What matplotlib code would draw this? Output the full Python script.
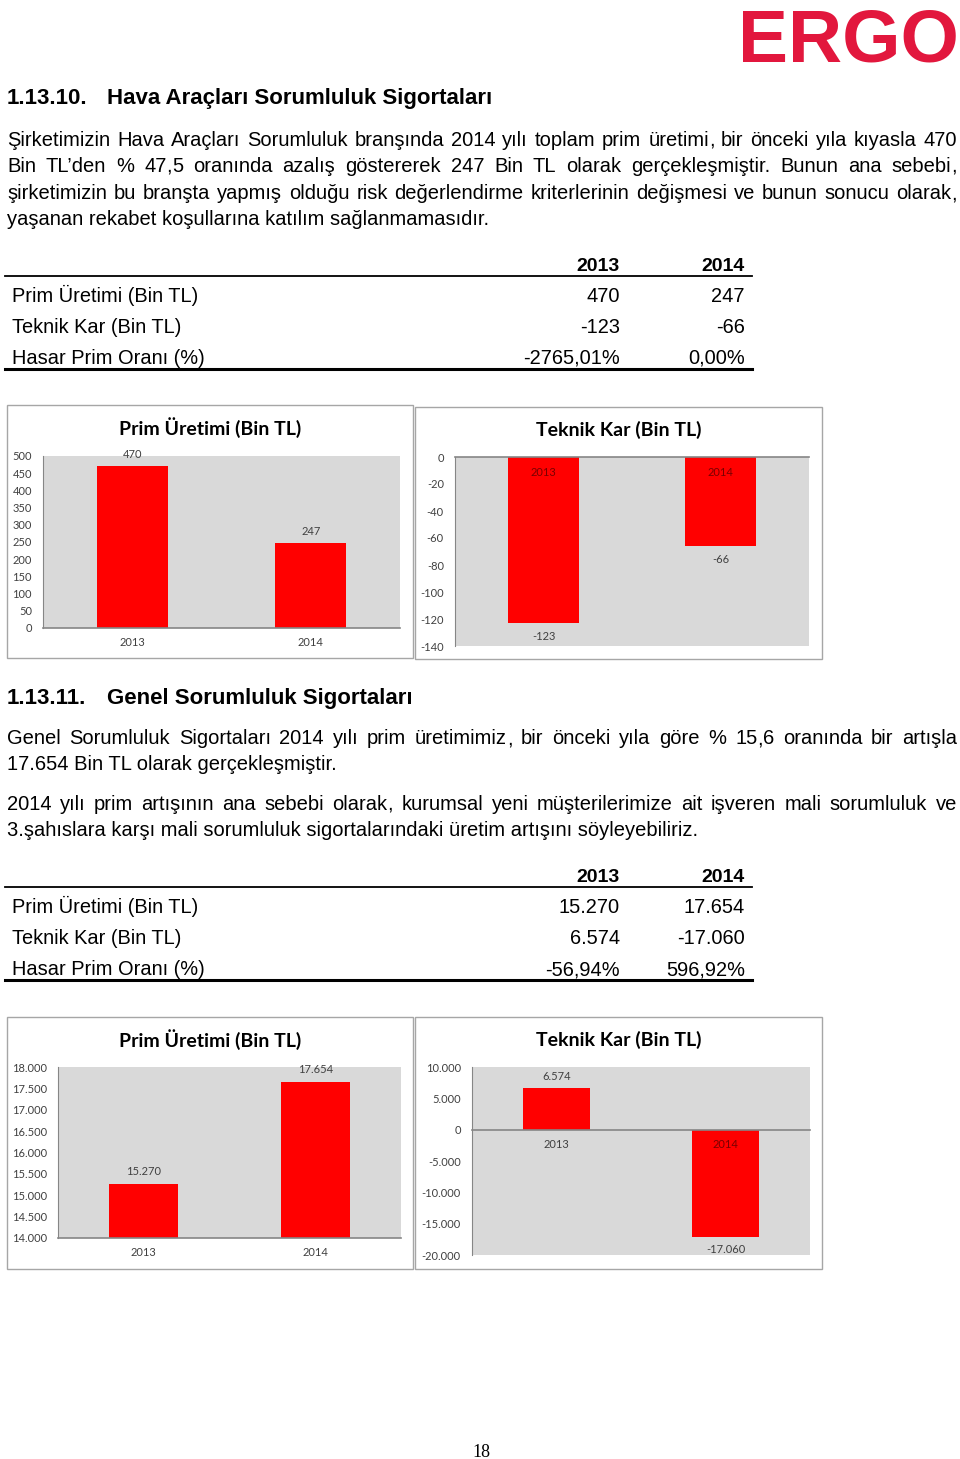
import re
import matplotlib
matplotlib.use('Agg')
import matplotlib.pyplot as plt
from matplotlib.lines import Line2D
from matplotlib.patches import Rectangle
from matplotlib.ticker import FuncFormatter, MultipleLocator

# ---- data ----
years = ['2013', '2014']
hava_prim = [470, 247]
hava_kar = [-123, -66]
hava_hasar = ['-2765,01%', '0,00%']
genel_prim = [15270, 17654]
genel_kar = [6574, -17060]
genel_hasar = ['-56,94%', '596,92%']
row_labels = ['Prim Üretimi (Bin TL)', 'Teknik Kar (Bin TL)', 'Hasar Prim Oranı (%)']

para1 = [
    'Şirketimizin Hava Araçları Sorumluluk branşında 2014 yılı toplam prim üretimi, bir önceki yıla kıyasla 470',
    'Bin TL’den % 47,5 oranında azalış göstererek 247 Bin TL olarak gerçekleşmiştir. Bunun ana sebebi,',
    'şirketimizin bu branşta yapmış olduğu risk değerlendirme kriterlerinin değişmesi ve bunun sonucu olarak,',
    'yaşanan rekabet koşullarına katılım sağlanmamasıdır.',
]
para2 = [
    'Genel Sorumluluk Sigortaları 2014 yılı prim üretimimiz, bir önceki yıla göre % 15,6 oranında bir artışla',
    '17.654 Bin TL olarak gerçekleşmiştir.',
]
para3 = [
    '2014 yılı prim artışının ana sebebi olarak, kurumsal yeni müşterilerimize ait işveren mali sorumluluk ve',
    '3.şahıslara karşı mali sorumluluk sigortalarındaki üretim artışını söyleyebiliriz.',
]

W, H = 960, 1459
plt.rcParams['font.family'] = ['Liberation Sans', 'DejaVu Sans']
fig = plt.figure(figsize=(W / 100, H / 100), dpi=100)
renderer = fig.canvas.get_renderer()


def fx(x):
    return x / W


def fy(y):
    return 1 - y / H


def tr(n):
    return f"{n:,}".replace(',', '.')


def word_width(word, size):
    t = fig.text(0, 0, word, fontsize=size)
    w = t.get_window_extent(renderer).width
    t.remove()
    return w


def put_word(word, x, y, size):
    # commas drawn as their own pieces so every word keeps the same baseline
    end = 0
    for p in [p for p in re.split(r'(,)', word) if p]:
        end += len(p)
        fig.text(fx(x + word_width(word[:end], size)), fy(y), p, fontsize=size,
                 ha='right', va='baseline')


def put_para(lines, y0, step=26.4, size=14.5):
    # justified lines, last one left aligned
    for i, line in enumerate(lines):
        y = y0 + round(i * step)
        if i == len(lines) - 1:
            fig.text(fx(7), fy(y), line, fontsize=size, va='baseline')
            continue
        words = line.split(' ')
        widths = [word_width(w, size) for w in words]
        gap = (957 - 7 - sum(widths)) / (len(words) - 1)
        x = 7
        for w, wd in zip(words, widths):
            put_word(w, x, y, size)
            x += wd + gap


def hline(y, x0, x1, lw):
    fig.add_artist(Line2D([fx(x0), fx(x1)], [fy(y), fy(y)], color='black', lw=lw,
                          transform=fig.transFigure))


def table(y_head, prim, kar, hasar):
    # y_head: vertical centre of the header row
    for x, yr in zip([620, 745], years):
        fig.text(fx(x), fy(y_head + 7), yr, fontsize=14, fontweight='bold', ha='right', va='baseline')
    hline(y_head + 12, 5, 752, 1.3)
    cols = [[tr(p), tr(k), h] for p, k, h in zip(prim, kar, hasar)]
    for i, lab in enumerate(row_labels):
        y = y_head + 31 * (i + 1) + 7
        fig.text(fx(12), fy(y), lab, fontsize=14.4, va='baseline')
        for x, col in zip([620, 745], cols):
            fig.text(fx(x), fy(y), col[i], fontsize=14.4, ha='right', va='baseline')
    hline(y_head + 105, 5, 752, 2.2)


def bar_chart(box, plot, title, values, ylim, step):
    bx0, by0, bx1, by1 = box
    fig.add_artist(Rectangle((fx(bx0), fy(by1)), fx(bx1 - bx0), (by1 - by0) / H,
                             transform=fig.transFigure, facecolor='white',
                             edgecolor='#a6a6a6', lw=1, zorder=-1))
    px0, py0, px1, py1 = plot
    ax = fig.add_axes([fx(px0), fy(py1), fx(px1 - px0), (py1 - py0) / H])
    ax.set_facecolor('#d9d9d9')
    base = 0 if ylim[0] < 0 else ylim[0]
    xs = range(len(values))
    ax.bar(xs, [v - base for v in values], bottom=base, width=0.4, color='#ff0000')
    ax.set_xlim(-0.5, len(values) - 0.5)
    ax.set_ylim(*ylim)
    ax.yaxis.set_major_locator(MultipleLocator(step))
    ax.yaxis.set_major_formatter(FuncFormatter(lambda v, p: tr(int(round(v)))))
    ax.set_xticks([])
    ax.tick_params(axis='y', length=0, pad=8, labelsize=8, labelcolor='#404040')
    for lab in ax.get_yticklabels():
        lab.set_family('Lato')
    for s in ['top', 'right', 'bottom']:
        ax.spines[s].set_visible(False)
    ax.spines['left'].set_color('#868686')
    ax.axhline(base, color='#868686', lw=1.2, clip_on=False)
    for x, v, yr in zip(xs, values, years):
        inside = (v < base)
        ax.annotate(yr, (x, base), xytext=(0, -15), textcoords='offset pixels',
                    ha='center', va='center', fontsize=8, family='Lato',
                    color='#7a0000' if inside else '#404040', zorder=5)
        off = 12 if v >= base else -13
        ax.annotate(tr(v), (x, v), xytext=(0, off), textcoords='offset pixels',
                    ha='center', va='center', fontsize=8, family='Lato', color='#404040')
    fig.text(fx((bx0 + bx1) / 2), fy(by0 + 23), title, fontsize=14, fontweight='bold',
             family='Lato', ha='center', va='center')


# logo
fig.text(fx(848), fy(62), 'ERGO', fontsize=54, fontweight='bold', color='#e2173d',
         ha='center', va='baseline')

# section 1.13.10
fig.text(fx(7), fy(104), '1.13.10.', fontsize=16, fontweight='bold', va='baseline')
fig.text(fx(107), fy(104), 'Hava Araçları Sorumluluk Sigortaları', fontsize=16,
         fontweight='bold', va='baseline')
put_para(para1, 146)
table(264, hava_prim, hava_kar, hava_hasar)
bar_chart((7, 405, 413, 658), (43, 456, 400, 628), 'Prim Üretimi (Bin TL)',
          hava_prim, (0, 500), 50)
bar_chart((415, 407, 822, 659), (455, 457, 809, 646), 'Teknik Kar (Bin TL)',
          hava_kar, (-140, 0), 20)

# section 1.13.11
fig.text(fx(7), fy(704), '1.13.11.', fontsize=16, fontweight='bold', va='baseline')
fig.text(fx(107), fy(704), 'Genel Sorumluluk Sigortaları', fontsize=16,
         fontweight='bold', va='baseline')
put_para(para2, 744)
put_para(para3, 810)
table(875, genel_prim, genel_kar, genel_hasar)
bar_chart((7, 1017, 413, 1269), (58, 1067, 401, 1238), 'Prim Üretimi (Bin TL)',
          genel_prim, (14000, 18000), 500)
bar_chart((415, 1017, 822, 1269), (472, 1067, 810, 1255), 'Teknik Kar (Bin TL)',
          genel_kar, (-20000, 10000), 5000)

# page number
fig.text(fx(481), fy(1457), '18', fontsize=13, family='Liberation Serif',
         ha='center', va='baseline')

fig.savefig('out.png', dpi=100)
